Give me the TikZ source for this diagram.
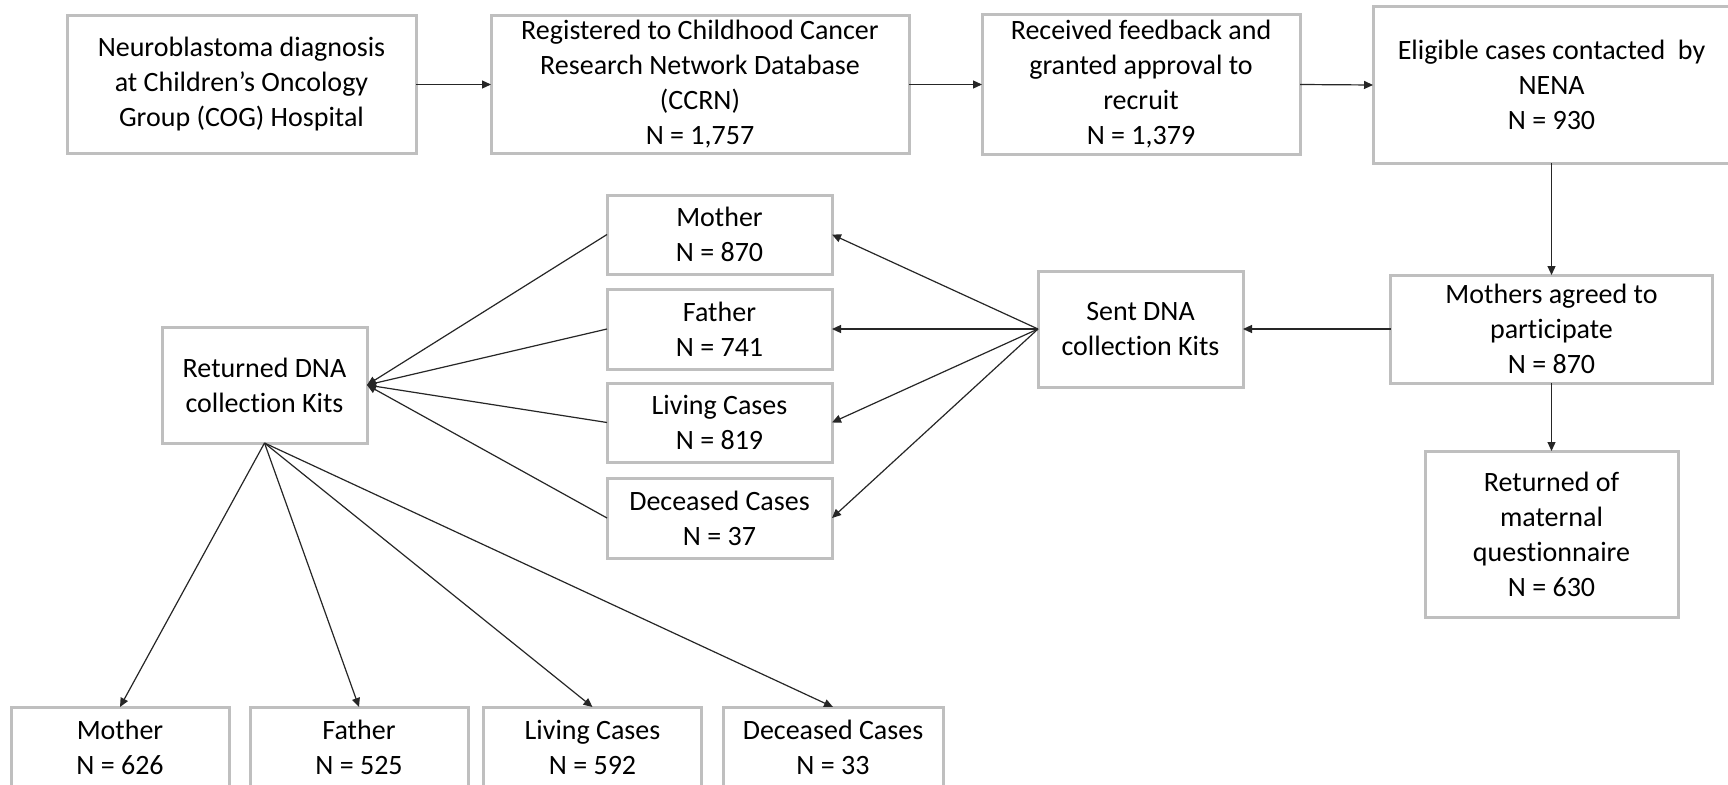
\documentclass[tikz,border=0pt]{standalone}
\usepackage{fontspec}
\setmainfont{Carlito}[Ligatures=NoCommon]
\usetikzlibrary{arrows.meta}
\begin{document}
\begin{tikzpicture}[x=1pt,y=-1pt,
  box/.style={draw=gray!50, line width=3pt, fill=white, inner sep=0pt, outer sep=0pt,
    align=center, font=\fontsize{28}{35}\selectfont, text=black},
  arr/.style={draw=black!85, line width=1.2pt, -{Triangle[length=9pt,width=8pt]}},
  ln/.style={draw=black!85, line width=1.2pt}]
\useasboundingbox (0,0) rectangle (1728,784);
\clip (0,0) rectangle (1728,784);
\fill[white] (0,0) rectangle (1728,784);
% top row
\node[box, minimum width=349pt, minimum height=137pt] (b1) at (241.5,84.5)
  {Neuroblastoma diagnosis\\at Children’s Oncology\\Group (COG) Hospital};
\node[box, minimum width=418pt, minimum height=137pt] (b2) at (700,84.5)
  {Registered to Childhood Cancer\\Research Network Database\\(CCRN)\\N = 1,757};
\node[box, minimum width=318pt, minimum height=139pt] (b3) at (1141,84.5)
  {Received feedback and\\granted approval to\\recruit\\N = 1,379};
\node[box, minimum width=357pt, minimum height=156pt] (b4) at (1551.5,85)
  {Eligible cases contacted\ \ by\\NENA\\N = 930};
% right column
\node[box, minimum width=322pt, minimum height=108pt] (ma) at (1551.5,329)
  {Mothers agreed to\\participate\\N = 870};
\node[box, minimum width=253pt, minimum height=166pt] (mq) at (1551.5,534)
  {Returned of\\maternal\\questionnaire\\N = 630};
\node[box, minimum width=205pt, minimum height=116pt] (sent) at (1140.5,329)
  {Sent DNA\\collection Kits};
% middle column
\node[box, minimum width=225pt, minimum height=79pt] (sm) at (719.5,234.5) {Mother\\N = 870};
\node[box, minimum width=225pt, minimum height=80pt] (sf) at (719.5,329) {Father\\N = 741};
\node[box, minimum width=225pt, minimum height=79pt] (sl) at (719.5,422.5) {Living Cases\\N = 819};
\node[box, minimum width=225pt, minimum height=80pt] (sd) at (719.5,518) {Deceased Cases\\N = 37};
% returned
\node[box, minimum width=205pt, minimum height=116pt] (ret) at (264.5,385)
  {Returned DNA\\collection Kits};
% bottom row
\node[box, minimum width=218pt, minimum height=80pt] (rm) at (120,747) {Mother\\N = 626};
\node[box, minimum width=218pt, minimum height=80pt] (rf) at (359,747) {Father\\N = 525};
\node[box, minimum width=218pt, minimum height=80pt] (rl) at (592.5,747) {Living Cases\\N = 592};
\node[box, minimum width=220pt, minimum height=80pt] (rd) at (833,747) {Deceased Cases\\N = 33};
% connectors
\draw[arr] (b1.east) -- (b2.west);
\draw[arr] (b2.east) -- (b3.west);
\draw[arr] (b3.east) -- (b4.west);
\draw[arr] (b4.south) -- (ma.north);
\draw[arr] (ma.south) -- (mq.north);
\draw[arr] (ma.west) -- (sent.east);
\draw[arr] (sent.west) -- (sm.east);
\draw[arr] (sent.west) -- (sf.east);
\draw[arr] (sent.west) -- (sl.east);
\draw[arr] (sent.west) -- (sd.east);
\draw[arr] (sm.west) -- (ret.east);
\draw[arr] (sf.west) -- (ret.east);
\draw[arr] (sl.west) -- (ret.east);
\draw[arr] (sd.west) -- (ret.east);
\draw[arr] (ret.south) -- (rm.north);
\draw[arr] (ret.south) -- (rf.north);
\draw[arr] (ret.south) -- (rl.north);
\draw[arr] (ret.south) -- (rd.north);
\end{tikzpicture}
\end{document}
